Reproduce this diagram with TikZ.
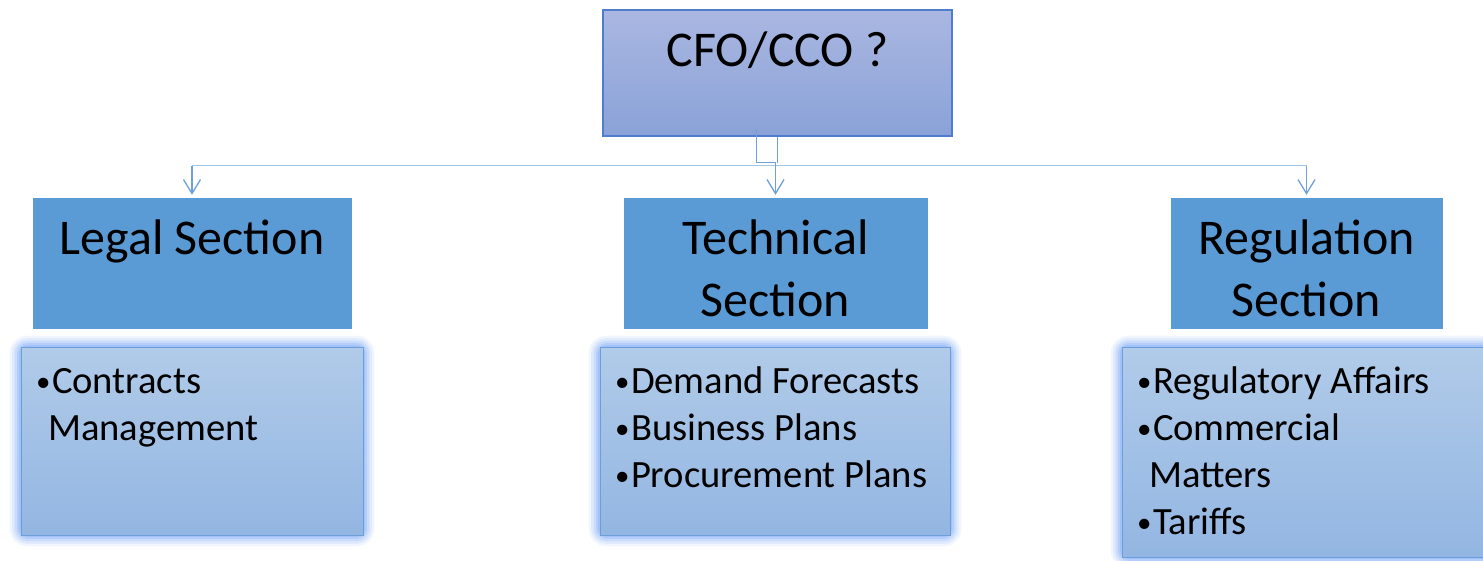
\documentclass[tikz,border=0pt]{standalone}
\usepackage{fontspec}
\usepackage{graphicx}
\setmainfont{Carlito}
\usetikzlibrary{arrows.meta,backgrounds}

\definecolor{HeadTop}{HTML}{AAB7E1}
\definecolor{HeadBottom}{HTML}{8AA2D8}
\definecolor{HeadLine}{HTML}{4F7BD0}
\definecolor{SectionFill}{HTML}{5B9BD5}
\definecolor{ListTop}{HTML}{B1CBE9}
\definecolor{ListBottom}{HTML}{93B6E2}
\definecolor{ListLine}{HTML}{6A9FD9}
\definecolor{GlowBlue}{HTML}{8CB2F6}
\definecolor{WireDark}{HTML}{6FA0DC}
\definecolor{WireLight}{HTML}{A3C7E8}

% text boxes with the text set against the top edge
\newcommand\TopText[4]{\parbox[c][#2][t]{#1}{\centering\rule{0pt}{#3}#4}}
\newcommand\ListText[4]{\parbox[c][#2][t]{#1}{\raggedright\leftskip=15pt\rule{0pt}{#3}#4}}
\newcommand\Bul{\makebox[16pt][l]{\raisebox{2pt}{\scalebox{0.75}{•}}}}
\newcommand\NoBul{\hspace*{12pt}}

\begin{document}
\begin{tikzpicture}[
    x=1pt,y=-1pt,
    % Environment Config
    HeadBox/.style={% Style for the top box
      draw=HeadLine,
      line width=1.2pt,
      top color=HeadTop,
      bottom color=HeadBottom,
      inner sep=0pt,
      font=\fontsize{50}{62}\selectfont
    },
    SectionBox/.style={% Style for the section boxes
      draw=SectionFill,
      fill=SectionFill,
      inner sep=0pt,
      font=\fontsize{50}{62}\selectfont
    },
    ListBox/.style={% Style for the task lists
      draw=ListLine,
      line width=0.8pt,
      top color=ListTop,
      bottom color=ListBottom,
      inner sep=0pt,
      font=\fontsize{38.6}{47}\selectfont
    },
    Glow/.style={% Halo round the task lists
      draw=GlowBlue,
      rounded corners=7pt,
      line width=#1
    },
    MyArrow/.style={% Style for the connectors
      -{Straight Barb[length=14pt,width=17pt]},
      WireDark,
      line width=1.3pt,
      shorten >=3pt
    },
    BusLine/.style={% Style for the horizontal bus
      WireLight,
      line width=1.3pt
    }
  ]

  \useasboundingbox (0,0) rectangle (1483,561);
  \clip (0,0) rectangle (1483,561);

  % Top box
  \node[HeadBox] (cfo) at (777.5,73) {\TopText{349pt}{126pt}{57pt}{CFO/CCO ?}};

  % Section boxes
  \node[SectionBox] (legal) at (192,263) {\TopText{318pt}{130pt}{57pt}{Legal Section}};
  \node[SectionBox] (tech) at (775.5,263) {\TopText{303pt}{130pt}{57pt}{Technical\\Section}};
  \node[SectionBox] (reg) at (1306.5,263) {\TopText{271pt}{130pt}{57pt}{Regulation\\Section}};

  % Task lists
  \node[ListBox] (legalList) at (192,441)
    {\ListText{342pt}{188pt}{46pt}{\Bul Contracts\\\NoBul Management}};
  \node[ListBox] (techList) at (775,441)
    {\ListText{350pt}{188pt}{46pt}{\Bul Demand Forecasts\\\Bul Business Plans\\\Bul Procurement Plans}};
  \node[ListBox] (regList) at (1307,452)
    {\ListText{370pt}{210pt}{46pt}{\Bul Regulatory Affairs\\\Bul Commercial\\\NoBul Matters\\\Bul Tariffs}};

  % Halo behind the lists
  \begin{scope}[on background layer]
    \foreach \n in {legalList,techList,regList}{
      \foreach \w/\o in {22pt/0.12,17pt/0.18,12pt/0.25,7pt/0.35,3pt/0.45}{
        \draw[Glow=\w,opacity=\o] (\n.north west) rectangle (\n.south east);
      }
    }
  \end{scope}

  % Connectors
  \draw[MyArrow,-]
  (cfo.south)
      -- ++(0,29) coordinate (hub);
  \draw[BusLine]
  (hub -| legal.north)
      -- (hub -| reg.north);
  \draw[MyArrow]
  (hub -| legal.north)
      -- (legal.north);
  \draw[MyArrow]
  (hub -| reg.north)
      -- (reg.north);
  \draw[MyArrow]
  (cfo.south)++(-21,-8)
      -- ++(0,34)
      -| (tech.north);

\end{tikzpicture}
\end{document}
